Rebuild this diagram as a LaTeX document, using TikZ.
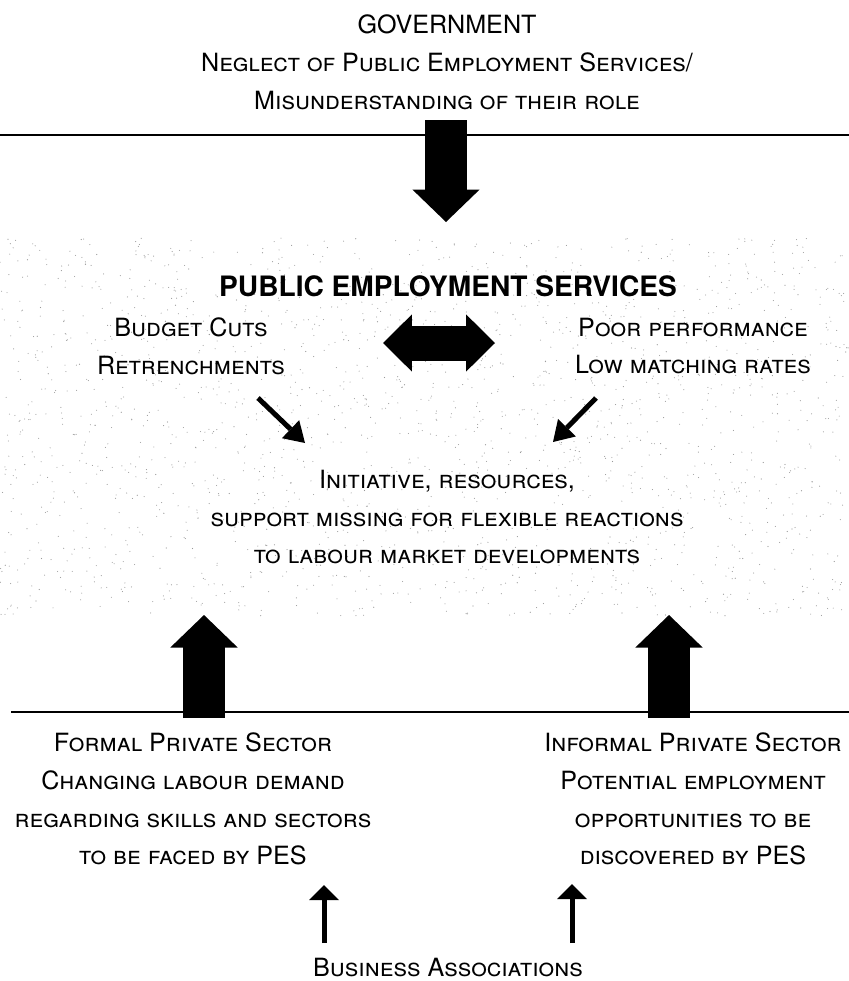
\documentclass[tikz,border=0pt]{standalone}
\usepackage{fontspec}
\setmainfont{TeX Gyre Heros}
\usetikzlibrary{arrows.meta, positioning}

\begin{document}
\begin{tikzpicture}[x=0.02cm, y=-0.02cm,
  lbl/.style={align=center, inner sep=0pt, font=\fontsize{14.3}{21.5}\selectfont\scshape},
  heading/.style={align=center, inner sep=0pt, font=\fontsize{16}{19}\selectfont\bfseries},
  sepline/.style={line width=0.05cm},
  blockarr/.style={line width=0.83cm, -{Triangle[line width=1pt, length=0.65cm, width=1.34cm]}},
  twoway/.style={line width=0.7cm, {Triangle[line width=1pt, length=0.58cm, width=1.14cm]}-{Triangle[line width=1pt, length=0.58cm, width=1.14cm]}},
  slant/.style={line width=0.1cm, -{Triangle[line width=0pt, length=0.4cm, width=0.5cm]}},
  thinarr/.style={line width=0.1cm, -{Triangle[line width=0pt, length=0.3cm, width=0.6cm]}}
]
\useasboundingbox (0,0) rectangle (849,981);

% stippled band behind the PES block
\pgfmathsetseed{11}
\foreach \i in {1,...,2000}{
  \pgfmathsetmacro{\dx}{849*rnd}
  \pgfmathsetmacro{\dy}{238+378*rnd}
  \fill[black!40] (\dx,\dy) circle[radius=0.011cm];
}

% top: government
\node[lbl] (gov) at (447,62) {GOVERNMENT\\Neglect of Public Employment Services/\\Misunderstanding of their role};
\draw[sepline] (0,135) -- (849,135);

% middle: PES
\node[heading] (pes) at (448,286) {PUBLIC EMPLOYMENT SERVICES};
\node[lbl] (cuts) at (191,346) {Budget Cuts\\Retrenchments};
\node[lbl] (perf) at (693,346) {Poor performance\\Low matching rates};
\node[lbl] (miss) at (447,517) {Initiative, resources,\\support missing for flexible reactions\\to labour market developments};

% bottom: private sector and business associations
\draw[sepline] (11,712) -- (849,712);
\node[lbl] (formal) at (193,799) {Formal Private Sector\\Changing labour demand\\regarding skills and sectors\\to be faced by PES};
\node[lbl] (informal) at (693,799) {Informal Private Sector\\Potential employment\\opportunities to be\\discovered by PES};
\node[lbl] (assoc) at (448,967) {Business Associations};

% arrow end points
\coordinate (govA) at (446,120);
\coordinate (pesA) at (446,222);
\coordinate (twL) at (383,343);
\coordinate (twR) at (495,343);
\coordinate (cutsA) at (258,398);
\coordinate (cutsB) at (305,443);
\coordinate (perfA) at (596,398);
\coordinate (perfB) at (553,442);
\coordinate (formA) at (204,718);
\coordinate (formB) at (204,615);
\coordinate (infA) at (669,718);
\coordinate (infB) at (669,615);
\coordinate (busL) at (324,943);
\coordinate (busLT) at (324,885);
\coordinate (busR) at (572,943);
\coordinate (busRT) at (572,884);

\draw[blockarr] (govA) -- (pesA);
\draw[twoway] (twL) -- (twR);
\draw[slant] (cutsA) -- (cutsB);
\draw[slant] (perfA) -- (perfB);
\draw[blockarr] (formA) -- (formB);
\draw[blockarr] (infA) -- (infB);
\draw[thinarr] (busL) -- (busLT);
\draw[thinarr] (busR) -- (busRT);
\end{tikzpicture}
\end{document}
